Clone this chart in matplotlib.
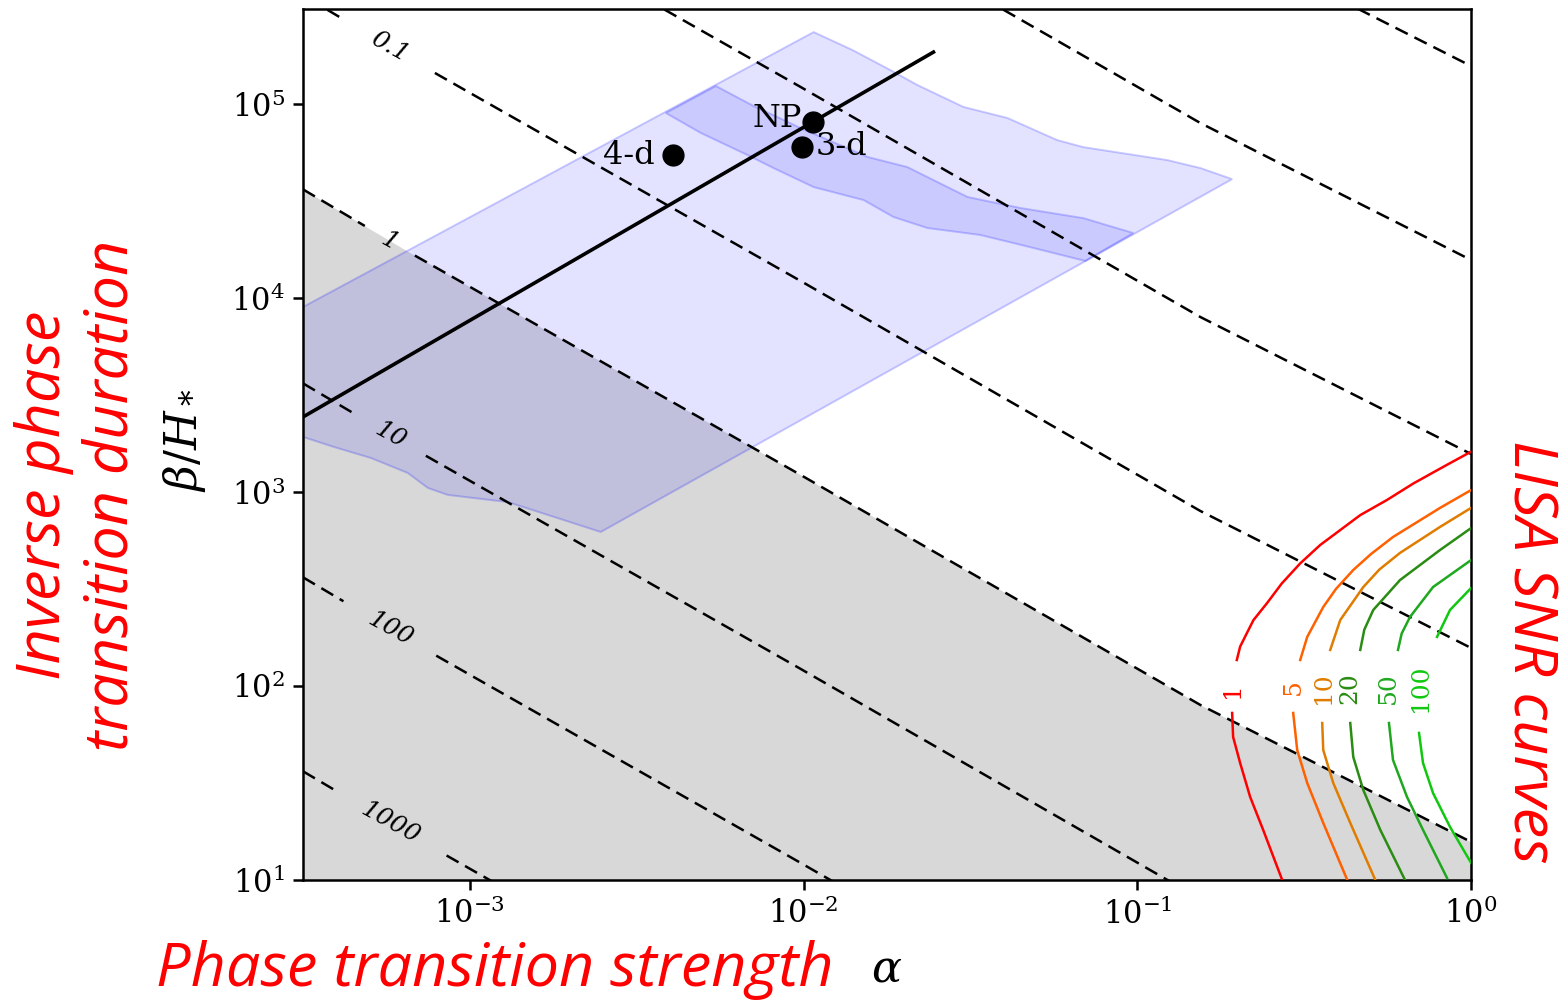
import numpy as np
import matplotlib
matplotlib.use("Agg")
import matplotlib.pyplot as plt

plt.rcParams['font.family'] = 'DejaVu Serif'
plt.rcParams['mathtext.fontset'] = 'dejavuserif'

# === Axis limits ===
alpha_lim = (10**-3.5, 1.0)
beta_lim = (10.0, 10**5.49)

# === Dashed contours: reference curve for level 1, others shifted by level ===
ref_log_alpha = [-3.5, -3.168, -2.009, -0.811, 0.0]
ref_log_beta = [4.560, 4.222, 3.088, 1.902, 1.196]
levels = [1000, 100, 10, 1, 0.1, 0.01, 0.001, 0.0001]
labeled = ['1000', '100', '10', '1', '0.1']
label_log_alpha = -3.24

# === Blue regions (log10 alpha, log10 beta/H) ===
outer_log_alpha = [-3.5, -1.970, -1.853, -1.740, -1.659, -1.521, -1.389, -1.240,
                   -1.162, -0.910, -0.811, -0.716, -2.608, -2.886, -3.066, -3.126,
                   -3.186, -3.296, -3.407, -3.5]
outer_log_beta = [3.954, 5.371, 5.278, 5.175, 5.098, 4.985, 4.928, 4.814,
                  4.778, 4.711, 4.670, 4.613, 2.794, 2.948, 2.985, 3.021,
                  3.098, 3.175, 3.232, 3.284]

inner_log_alpha = [-2.413, -2.263, -2.150, -2.060, -2.009, -1.808, -1.689, -1.611,
                   -1.509, -1.350, -1.162, -1.012, -1.156, -1.311, -1.470, -1.629,
                   -1.731, -1.820, -1.970, -2.090, -2.168, -2.308]
inner_log_beta = [4.954, 5.093, 4.990, 4.918, 4.876, 4.727, 4.675, 4.608,
                  4.521, 4.464, 4.412, 4.335, 4.191, 4.258, 4.325, 4.361,
                  4.418, 4.505, 4.572, 4.670, 4.737, 4.851]

# === Black line and benchmark points ===
line_alpha = [10**-3.5, 0.02449]
line_beta = [2438.0, 1.853e5]
pt_names = ['4-d', 'NP', '3-d']
pt_alpha = [4.06e-3, 0.01064, 9.86e-3]
pt_beta = [5.46e4, 8.07e4, 6.0e4]

# === LISA SNR curves (log10 alpha, log10 beta/H), upper and lower branches ===
snr_names = ['1', '5', '10', '20', '50', '100']
snr_colors = ['#ff0000', '#ff6000', '#e07c00', '#2a8c12', '#1fa81f', '#10c810']
snr_upper_a = [
    [0.0, -0.083, -0.173, -0.252, -0.332, -0.392, -0.452, -0.512, -0.567, -0.612,
     -0.652, -0.672, -0.692, -0.702],
    [0.0, -0.093, -0.234, -0.300, -0.353, -0.405, -0.443, -0.491, -0.512],
    [0.0, -0.093, -0.213, -0.275, -0.323, -0.392, -0.422],
    [0.0, -0.093, -0.213, -0.293, -0.320, -0.332],
    [0.0, -0.114, -0.183, -0.208, -0.219],
    [0.0, -0.063, -0.102],
]
snr_upper_b = [
    [3.208, 3.130, 3.044, 2.959, 2.881, 2.804, 2.727, 2.632, 2.529, 2.426,
     2.340, 2.272, 2.203, 2.134],
    [3.010, 2.918, 2.768, 2.680, 2.598, 2.500, 2.407, 2.253, 2.134],
    [2.918, 2.820, 2.686, 2.600, 2.510, 2.340, 2.186],
    [2.814, 2.701, 2.546, 2.392, 2.290, 2.186],
    [2.649, 2.510, 2.356, 2.270, 2.186],
    [2.505, 2.392, 2.253],
]
snr_lower_a = [
    [-0.716, -0.713, -0.692, -0.662, -0.623, -0.566],
    [-0.533, -0.521, -0.491, -0.443, -0.371],
    [-0.446, -0.443, -0.413, -0.362, -0.287],
    [-0.362, -0.353, -0.323, -0.272, -0.198],
    [-0.246, -0.234, -0.192, -0.144, -0.072],
    [-0.156, -0.144, -0.114, -0.063, 0.0],
]
snr_lower_b = [
    [1.861, 1.737, 1.603, 1.428, 1.258, 1.000],
    [1.861, 1.670, 1.500, 1.294, 1.000],
    [1.809, 1.670, 1.500, 1.294, 1.000],
    [1.809, 1.634, 1.464, 1.258, 1.000],
    [1.809, 1.619, 1.428, 1.258, 1.010],
    [1.758, 1.603, 1.448, 1.273, 1.088],
]
snr_label_a = [-0.716, -0.533, -0.443, -0.362, -0.249, -0.153]
snr_label_b = [1.979, 1.995, 1.990, 1.990, 1.990, 1.990]


def split_gap(xs, ys, lo, hi):
    xs = np.asarray(xs)
    ys = np.asarray(ys)
    left_x = np.append(xs[xs < lo], lo)
    left_y = np.append(ys[xs < lo], np.interp(lo, xs, ys))
    right_x = np.insert(xs[xs > hi], 0, hi)
    right_y = np.insert(ys[xs > hi], 0, np.interp(hi, xs, ys))
    return (left_x, left_y), (right_x, right_y)


fig = plt.figure(figsize=(15.59, 10.02), dpi=100)
ax = fig.add_axes([0.1944, 0.1218, 0.7492, 0.8692])
ax.set_xscale('log')
ax.set_yscale('log')

ra = np.array(ref_log_alpha)
rb = np.array(ref_log_beta)

# grey region below the level-1 line
ax.fill_between(10**ra, beta_lim[0], 10**rb, color='#d8d8d8', lw=0, zorder=1)

# blue regions
ax.fill(10**np.array(outer_log_alpha), 10**np.array(outer_log_beta),
        facecolor=(0, 0, 1, 0.11), edgecolor=(0, 0, 1, 0.2), lw=1.4, zorder=2)
ax.fill(10**np.array(inner_log_alpha), 10**np.array(inner_log_beta),
        facecolor=(0, 0, 1, 0.11), edgecolor=(0, 0, 1, 0.2), lw=1.4, zorder=2)

# dashed contours
gap_half = {'1000': 0.17, '100': 0.139, '10': 0.108, '1': 0.075, '0.1': 0.135}
dash_kw = dict(color='black', lw=1.8, ls=(0, (5.5, 3)), zorder=3)
for lev in levels:
    yb = rb - np.log10(lev)
    name = f'{lev:g}'
    if name in labeled:
        h = gap_half[name]
        (lx, ly), (rx, ry) = split_gap(ra, yb, label_log_alpha - h, label_log_alpha + h)
        ax.plot(10**lx, 10**ly, **dash_kw)
        ax.plot(10**rx, 10**ry, **dash_kw)
        yl = np.interp(label_log_alpha, ra, yb)
        ax.text(10**label_log_alpha, 10**yl, name, rotation=-29, fontsize=18,
                style='italic', ha='center', va='center', zorder=4)
    else:
        ax.plot(10**ra, 10**yb, **dash_kw)

# black line and points
ax.plot(line_alpha, line_beta, color='black', lw=2.6, zorder=5)
ax.plot(pt_alpha, pt_beta, 'o', color='black', ms=15, zorder=6)
ax.text(pt_alpha[0] * 0.88, pt_beta[0], pt_names[0], fontsize=23, ha='right', va='center', zorder=6)
ax.text(pt_alpha[1] * 0.93, pt_beta[1] * 1.04, pt_names[1], fontsize=23, ha='right', va='center', zorder=6)
ax.text(pt_alpha[2] * 1.1, pt_beta[2] * 1.01, pt_names[2], fontsize=23, ha='left', va='center', zorder=6)

# SNR curves
for i, name in enumerate(snr_names):
    c = snr_colors[i]
    ax.plot(10**np.array(snr_upper_a[i]), 10**np.array(snr_upper_b[i]), color=c, lw=1.8, zorder=4)
    ax.plot(10**np.array(snr_lower_a[i]), 10**np.array(snr_lower_b[i]), color=c, lw=1.8, zorder=4)
    ax.text(10**snr_label_a[i], 10**snr_label_b[i], name, color=c, rotation=90,
            fontsize=18, ha='center', va='center', zorder=4)

ax.set_xlim(*alpha_lim)
ax.set_ylim(*beta_lim)
ax.minorticks_off()
ax.tick_params(which='major', length=7, width=1.8, labelsize=22, pad=6)
for s in ax.spines.values():
    s.set_linewidth(1.8)

# axis labels
fig.text(0.569, 0.033, r'$\alpha$', fontsize=32, ha='center', va='center')
fig.text(0.1185, 0.561, r'$\beta/H_*$', fontsize=32, rotation=90, ha='center', va='center')

red_kw = dict(color='red', family='Open Sans', style='italic', fontsize=44)
fig.text(0.3175, 0.032, 'Phase transition strength', ha='center', va='center', **red_kw)
fig.text(0.050, 0.506, 'Inverse phase\ntransition duration', rotation=90, ha='center',
         va='center', multialignment='center', linespacing=1.15, **red_kw)
fig.text(0.981, 0.350, 'LISA SNR curves', rotation=270, ha='center', va='center', **red_kw)

fig.savefig('out.png', dpi=100)
